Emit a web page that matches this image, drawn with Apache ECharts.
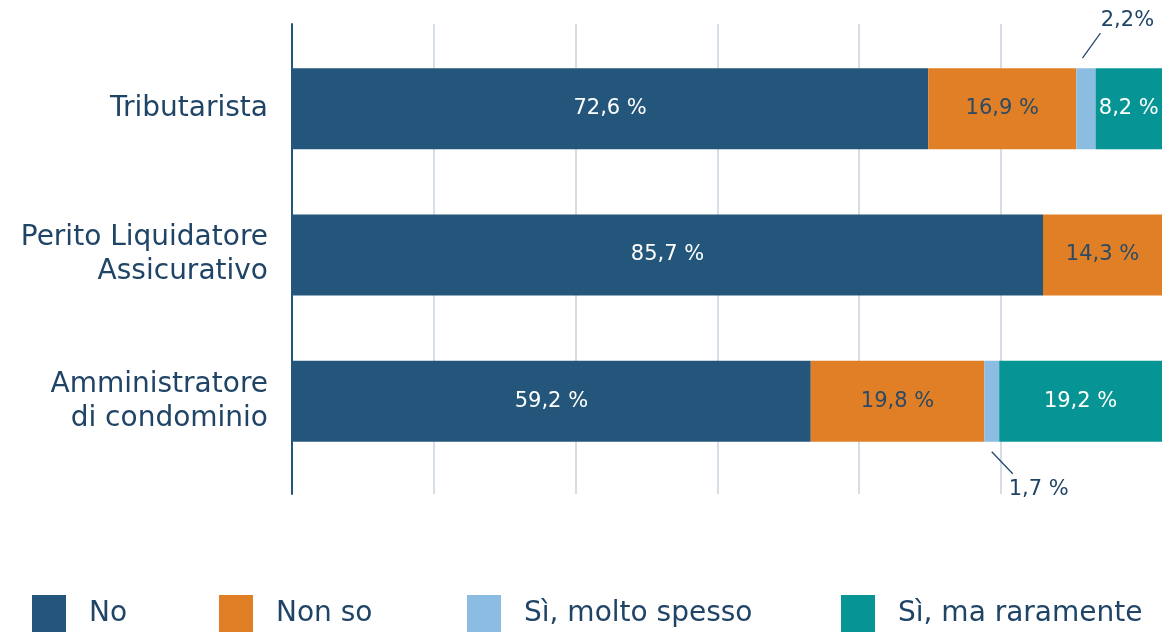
<!DOCTYPE html>
<html>
<head>
<meta charset="utf-8">
<title>Chart</title>
<script src="https://cdn.jsdelivr.net/npm/echarts@6/dist/echarts.min.js"></script>
<style>
  html, body { margin: 0; padding: 0; background: #fff; }
  #chart { width: 1162px; height: 632px; }
</style>
</head>
<body>
<div id="chart"></div>
<script>
// categories (top to bottom)
var categories = ['Tributarista', 'Perito Liquidatore\nAssicurativo', 'Amministratore\ndi condominio']
var seriesNames = ['No', 'Non so', 'Sì, molto spesso', 'Sì, ma raramente']
var noData = [72.6, 85.7, 59.2]
var nonSoData = [16.9, 14.3, 19.8]
var spessoData = [2.2, null, 1.7]
var raramenteData = [8.2, null, 19.2]
var spessoLabels = ['2,2%', '', '1,7 %']

var textColor = '#1f4466'
var colors = ['#24567b', '#e07f25', '#8bbce1', '#079494']
var font = 'DejaVu Sans'

function fmt(v) {
  return v.toFixed(1).replace('.', ',') + ' %'
}

var chart = echarts.init(document.getElementById('chart'))

function barLabel(color) {
  return {
    show: true,
    position: 'inside',
    color: color,
    fontFamily: font,
    fontSize: 21,
    formatter: function (p) { return fmt(p.value) }
  }
}

// small segments get their labels outside, with a leader line
var spessoItems = spessoData.map(function (v, i) {
  if (v == null) return null
  var up = i === 0
  return {
    value: v,
    label: {
      show: true,
      position: 'inside',
      offset: up ? [41.5, -88] : [47, 88],
      color: textColor,
      fontFamily: font,
      fontSize: 21,
      formatter: spessoLabels[i]
    }
  }
})

var leaderData = []
spessoData.forEach(function (v, i) {
  if (v != null) leaderData.push([noData[i] + nonSoData[i] + v / 2, i])
})

var legends = seriesNames.map(function (name, i) {
  return {
    data: [name],
    left: [32, 219, 467, 841][i],
    top: 595,
    padding: 0,
    itemWidth: 34,
    itemHeight: 38,
    icon: 'rect',
    selectedMode: false,
    textStyle: {
      color: textColor,
      fontFamily: font,
      fontSize: 28,
      padding: [0, 0, 0, 18]
    }
  }
})

chart.setOption({
  animation: false,
  legend: legends,
  grid: [
    { left: 292, right: 0, top: 35.6, height: 438.75 },
    { left: 292, width: 709, top: 24, height: 470 }
  ],
  xAxis: [
    {
      // the full 100 % runs a few pixels past the right edge
      type: 'value',
      gridIndex: 0,
      min: 0,
      max: 99.28,
      show: false
    },
    {
      type: 'value',
      gridIndex: 1,
      min: 0,
      max: 5,
      interval: 1,
      axisLine: { show: false },
      axisTick: { show: false },
      axisLabel: { show: false },
      splitLine: { lineStyle: { color: '#d6dde5', width: 2 } }
    }
  ],
  yAxis: [
    {
      type: 'category',
      gridIndex: 0,
      inverse: true,
      data: categories,
      axisLine: { show: false },
      axisTick: { show: false },
      axisLabel: {
        margin: 24,
        color: textColor,
        fontFamily: font,
        fontSize: 28,
        lineHeight: 34,
        align: 'right'
      }
    },
    {
      type: 'value',
      gridIndex: 1,
      min: 0,
      max: 1,
      axisLine: { show: true, lineStyle: { color: '#24567b', width: 2 } },
      axisTick: { show: false },
      axisLabel: { show: false },
      splitLine: { show: false }
    }
  ],
  series: [
    {
      name: seriesNames[0],
      type: 'bar',
      stack: 'total',
      barWidth: 81,
      itemStyle: { color: colors[0] },
      label: barLabel('#ffffff'),
      data: noData
    },
    {
      name: seriesNames[1],
      type: 'bar',
      stack: 'total',
      barWidth: 81,
      itemStyle: { color: colors[1] },
      label: barLabel('#2a4a66'),
      data: nonSoData
    },
    {
      name: seriesNames[2],
      type: 'bar',
      stack: 'total',
      barWidth: 81,
      itemStyle: { color: colors[2] },
      data: spessoItems
    },
    {
      name: seriesNames[3],
      type: 'bar',
      stack: 'total',
      barWidth: 81,
      itemStyle: { color: colors[3] },
      label: barLabel('#ffffff'),
      data: raramenteData
    },
    {
      // leader lines for the small segments
      type: 'custom',
      silent: true,
      data: leaderData,
      renderItem: function (params, api) {
        var p = api.coord([api.value(0), api.value(1)])
        var up = api.value(1) === 0
        var half = 40.5
        var shape = up
          ? { x1: p[0] - 3.5, y1: p[1] - half - 10, x2: p[0] + 14.5, y2: p[1] - half - 35 }
          : { x1: p[0], y1: p[1] + half + 10, x2: p[0] + 21, y2: p[1] + half + 32 }
        return {
          type: 'line',
          shape: shape,
          style: { stroke: textColor, lineWidth: 1.2 }
        }
      }
    }
  ]
})
</script>
</body>
</html>
